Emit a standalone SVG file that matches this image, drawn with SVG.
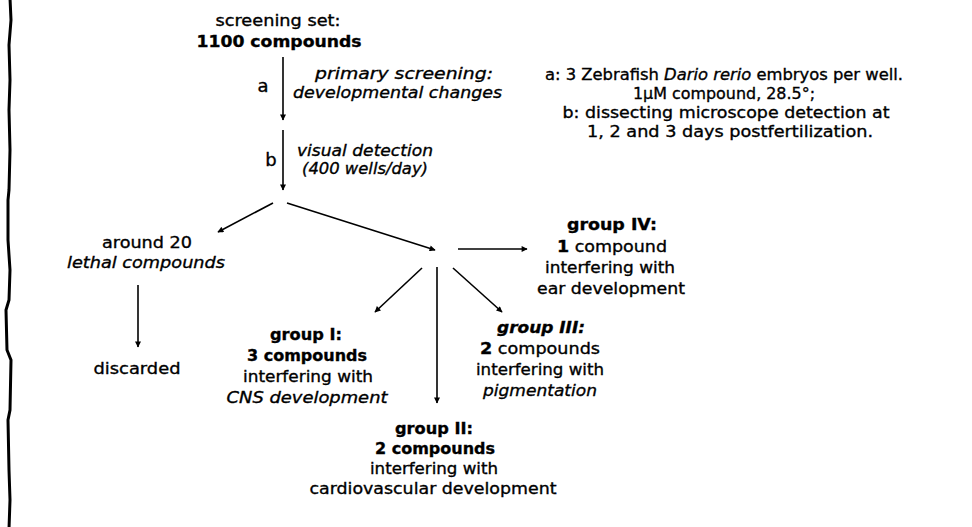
<svg xmlns="http://www.w3.org/2000/svg" width="972" height="527" viewBox="0 0 972 527">
  <style>
    text { font-family: "DejaVu Sans", "Liberation Sans", sans-serif; font-size: 16px; fill: #000; stroke: #000; stroke-width: 0.35; }
    .c { text-anchor: middle; }
    .b { font-weight: bold; }
    .i { font-style: italic; }
    .lbl { font-size: 18px; text-anchor: middle; }
    .edge { stroke: #000; stroke-width: 1.6; fill: none; marker-end: url(#head); }
  </style>
  <defs>
    <marker id="head" viewBox="0 0 10 10" refX="9" refY="5" markerUnits="userSpaceOnUse" markerWidth="10" markerHeight="6" orient="auto">
      <path d="M0,0 L10,5 L0,10 Z" fill="#000"/>
    </marker>
  </defs>
  <rect width="972" height="527" fill="#fff"/>

  <!-- left margin rule -->
  <polyline points="10,-2 11,20 9,45 10,80 9,110 10,150 9,190 8,200 8,240 10,270 9,300 6,310 7,350 11,360 10,410 8,420 9,470 10,500 9,529" fill="none" stroke="#000" stroke-width="3"/>

  <!-- connectors -->
  <g id="connectors">
    <line class="edge" x1="283" y1="57" x2="283" y2="120"/>
    <line class="edge" x1="283" y1="130" x2="283" y2="190"/>
    <line class="edge" x1="273" y1="203" x2="218" y2="232"/>
    <line class="edge" x1="287" y1="203" x2="435" y2="250"/>
    <line class="edge" x1="138" y1="285" x2="138" y2="347"/>
    <line class="edge" x1="458" y1="249" x2="527" y2="249"/>
    <line class="edge" x1="453" y1="268" x2="502" y2="312"/>
    <line class="edge" x1="437" y1="267" x2="437" y2="403"/>
    <line class="edge" x1="422" y1="268" x2="375" y2="312"/>
    <text class="lbl" x="263" y="92">a</text>
    <text class="lbl" x="271" y="166">b</text>
    <text class="i" x="315" y="79" textLength="178" lengthAdjust="spacingAndGlyphs">primary screening:</text>
    <text class="i" x="293" y="98" textLength="209" lengthAdjust="spacingAndGlyphs">developmental changes</text>
    <text class="i" x="297" y="156" textLength="136" lengthAdjust="spacingAndGlyphs">visual detection</text>
    <text class="i" x="302" y="174" textLength="126" lengthAdjust="spacingAndGlyphs">(400 wells/day)</text>
  </g>

  <g id="screening-set">
    <text class="c" x="278" y="26" textLength="125" lengthAdjust="spacingAndGlyphs">screening set:</text>
    <text class="c b" x="279" y="47" textLength="165" lengthAdjust="spacingAndGlyphs">1100 compounds</text>
  </g>

  <g id="conditions">
    <text class="c" x="724" y="80" textLength="358" lengthAdjust="spacingAndGlyphs">a: 3 Zebrafish <tspan class="i">Dario rerio</tspan> embryos per well.</text>
    <text class="c" x="724" y="99" textLength="182" lengthAdjust="spacingAndGlyphs">1μM compound, 28.5°;</text>
    <text class="c" x="726" y="118" textLength="327" lengthAdjust="spacingAndGlyphs">b: dissecting microscope detection at</text>
    <text class="c" x="730" y="137" textLength="286" lengthAdjust="spacingAndGlyphs">1, 2 and 3 days postfertilization.</text>
  </g>

  <g id="lethal">
    <text class="c" x="147" y="248" textLength="90" lengthAdjust="spacingAndGlyphs">around 20</text>
    <text class="c i" x="146" y="268" textLength="158" lengthAdjust="spacingAndGlyphs">lethal compounds</text>
  </g>

  <g id="discarded">
    <text class="c" x="137" y="374" textLength="87" lengthAdjust="spacingAndGlyphs">discarded</text>
  </g>

  <g id="group-iv">
    <text class="c b" x="612" y="230" textLength="90" lengthAdjust="spacingAndGlyphs">group IV:</text>
    <text class="c" x="612" y="252" textLength="110" lengthAdjust="spacingAndGlyphs"><tspan class="b">1</tspan> compound</text>
    <text class="c" x="610" y="273" textLength="130" lengthAdjust="spacingAndGlyphs">interfering with</text>
    <text class="c" x="611" y="294" textLength="148" lengthAdjust="spacingAndGlyphs">ear development</text>
  </g>

  <g id="group-iii">
    <text class="c b i" x="541" y="333" textLength="88" lengthAdjust="spacingAndGlyphs">group III:</text>
    <text class="c" x="540" y="354" textLength="120" lengthAdjust="spacingAndGlyphs"><tspan class="b">2</tspan> compounds</text>
    <text class="c" x="540" y="375" textLength="128" lengthAdjust="spacingAndGlyphs">interfering with</text>
    <text class="c i" x="540" y="396" textLength="114" lengthAdjust="spacingAndGlyphs">pigmentation</text>
  </g>

  <g id="group-i">
    <text class="c b" x="306" y="340" textLength="72" lengthAdjust="spacingAndGlyphs">group I:</text>
    <text class="c b" x="307" y="361" textLength="120" lengthAdjust="spacingAndGlyphs">3 compounds</text>
    <text class="c" x="308" y="382" textLength="130" lengthAdjust="spacingAndGlyphs">interfering with</text>
    <text class="c i" x="307" y="403" textLength="161" lengthAdjust="spacingAndGlyphs">CNS development</text>
  </g>

  <g id="group-ii">
    <text class="c b" x="434" y="434" textLength="78" lengthAdjust="spacingAndGlyphs">group II:</text>
    <text class="c b" x="435" y="454" textLength="120" lengthAdjust="spacingAndGlyphs">2 compounds</text>
    <text class="c" x="434" y="474" textLength="128" lengthAdjust="spacingAndGlyphs">interfering with</text>
    <text class="c" x="433" y="494" textLength="247" lengthAdjust="spacingAndGlyphs">cardiovascular development</text>
  </g>
</svg>
